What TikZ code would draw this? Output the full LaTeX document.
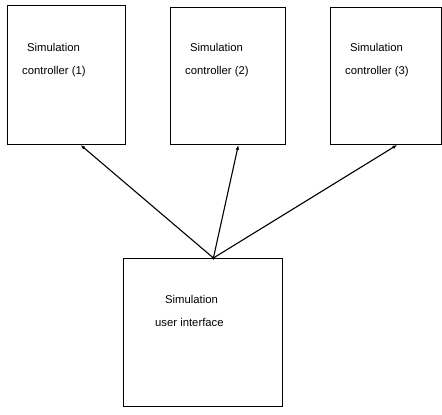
\documentclass[tikz,border=0pt]{standalone}
\usepackage{fontspec}
\setmainfont{Liberation Sans}
\usetikzlibrary{arrows.meta,positioning,calc}

\begin{document}
\begin{tikzpicture}[x=1pt,y=-1pt,>={Latex[length=5pt,width=3.5pt]},
  every node/.style={font=\fontsize{11.3}{13}\selectfont},
  unitbox/.style={draw,line width=.8pt,inner sep=0pt,anchor=north west},
  txt/.style={anchor=west,inner sep=0pt},
  link/.style={line width=1.1pt,->}]
\useasboundingbox (0,0) rectangle (442,415);
% controllers
\node[unitbox,minimum width=118pt,minimum height=139pt] (ctrl1) at (7,5) {};
\node[unitbox,minimum width=115pt,minimum height=137pt] (ctrl2) at (170,7) {};
\node[unitbox,minimum width=111pt,minimum height=137pt] (ctrl3) at (330,7) {};
\node[txt] (ctrl1a) at ($(ctrl1.north west)+(20,42)$) {Simulation};
\node[txt] (ctrl1b) at ($(ctrl1.north west)+(15,67)$) {controller (1)};
\node[txt] (ctrl2a) at ($(ctrl2.north west)+(20,40)$) {Simulation};
\node[txt] (ctrl2b) at ($(ctrl2.north west)+(15,65)$) {controller (2)};
\node[txt] (ctrl3a) at ($(ctrl3.north west)+(20,40)$) {Simulation};
\node[txt] (ctrl3b) at ($(ctrl3.north west)+(15,65)$) {controller (3)};
% user interface
\node[unitbox,minimum width=159pt,minimum height=148pt] (ui) at (123,258) {};
\node[txt] (uia) at ($(ui.north west)+(42,41)$) {Simulation};
\node[txt] (uib) at ($(ui.north west)+(32,64)$) {user interface};
% links
\coordinate (hub) at ([xshift=10.5pt]ui.north);
\fill (hub) circle (1.8);
\draw[link] (hub) -- ([xshift=14pt]ctrl1.south);
\draw[link] (hub) -- ([xshift=10.5pt]ctrl2.south);
\draw[link] (hub) -- ([xshift=11.5pt]ctrl3.south);
\end{tikzpicture}
\end{document}
